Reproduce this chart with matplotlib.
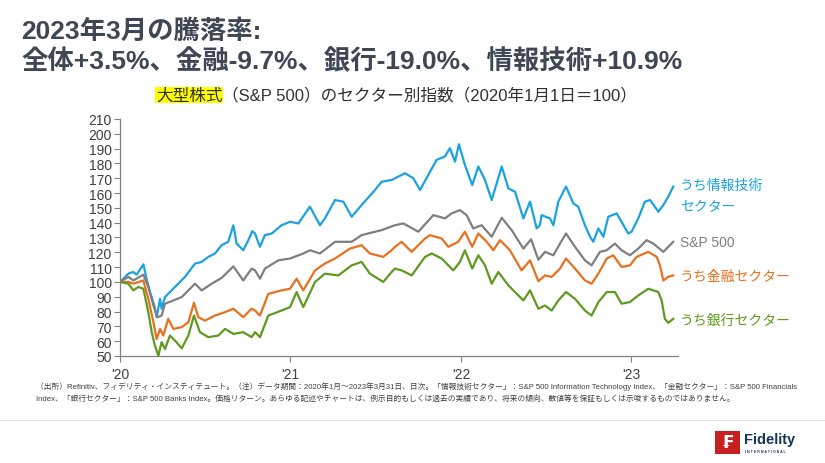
import matplotlib
matplotlib.use("Agg")
import matplotlib.pyplot as plt
from matplotlib.patches import Rectangle
from matplotlib.lines import Line2D

plt.rcParams['font.family'] = ['Liberation Sans', 'Noto Sans CJK JP', 'DejaVu Sans']

# -----------------------------
# Data (decimal years; 2020-01-01 = 100)
# -----------------------------
it_t = [2020.000, 2020.049, 2020.078, 2020.098, 2020.137, 2020.156, 2020.176, 2020.201,
        2020.215, 2020.235, 2020.244, 2020.264, 2020.293, 2020.332, 2020.381, 2020.440,
        2020.479, 2020.518, 2020.557, 2020.596, 2020.635, 2020.665, 2020.684, 2020.723,
        2020.753, 2020.776, 2020.792, 2020.821, 2020.850, 2020.890, 2020.948, 2020.997,
        2021.046, 2021.114, 2021.173, 2021.202, 2021.261, 2021.310, 2021.359, 2021.417,
        2021.496, 2021.535, 2021.593, 2021.672, 2021.720, 2021.760, 2021.808, 2021.857,
        2021.906, 2021.935, 2021.965, 2021.988, 2022.023, 2022.066, 2022.102, 2022.141,
        2022.180, 2022.239, 2022.278, 2022.317, 2022.366, 2022.405, 2022.444, 2022.463,
        2022.473, 2022.522, 2022.542, 2022.571, 2022.616, 2022.659, 2022.688, 2022.727,
        2022.757, 2022.776, 2022.806, 2022.835, 2022.864, 2022.913, 2022.942, 2022.981,
        2023.001, 2023.040, 2023.079, 2023.109, 2023.158, 2023.187, 2023.216, 2023.245]
it_v = [100, 105.6, 106.7, 104.9, 111.9, 102, 93.2, 84.1,
        76.2, 88.6, 81.9, 89.8, 93.2, 97.7, 103.4, 112.4,
        113.5, 116.9, 119.2, 124.8, 127.1, 138.3, 125.9, 121.4,
        128.2, 134.3, 132.7, 123.7, 131.6, 132.7, 138.3, 140.6,
        139.5, 150.8, 138.3, 142.9, 155.3, 154.2, 144, 151.9,
        162.1, 167.7, 168.8, 173.4, 170, 162.1, 172.2, 182.4,
        184.7, 190.3, 181.2, 193, 179, 165.4, 177.9, 168.8,
        155.3, 177.9, 163.2, 160.9, 142.9, 154.2, 136.1, 138.3,
        145.1, 142.9, 138.3, 154.2, 164.4, 153, 150.8, 138.3,
        130.5, 127.1, 136.1, 130.5, 144, 146.3, 140.6, 132.7,
        133.9, 142.9, 154.2, 155.3, 147.4, 151.9, 157.6, 164.4]

sp_t = [2020.000, 2020.049, 2020.078, 2020.137, 2020.166, 2020.196, 2020.221, 2020.244,
        2020.264, 2020.313, 2020.362, 2020.440, 2020.479, 2020.538, 2020.596, 2020.665,
        2020.723, 2020.772, 2020.792, 2020.821, 2020.850, 2020.929, 2020.997, 2021.075,
        2021.114, 2021.173, 2021.261, 2021.359, 2021.417, 2021.535, 2021.613, 2021.662,
        2021.750, 2021.838, 2021.906, 2021.945, 2021.994, 2022.033, 2022.072, 2022.121,
        2022.180, 2022.239, 2022.297, 2022.366, 2022.411, 2022.454, 2022.493, 2022.542,
        2022.581, 2022.616, 2022.669, 2022.727, 2022.766, 2022.815, 2022.855, 2022.903,
        2022.942, 2022.991, 2023.040, 2023.089, 2023.128, 2023.187, 2023.216, 2023.245]
sp_v = [100, 103.4, 101, 104.9, 96.6, 84.1, 76.2, 77.3,
        85.3, 87.5, 89.8, 98.8, 94.3, 98.8, 102.7, 110.5,
        101, 109, 107.8, 102.2, 109, 114.6, 115.8, 119.2,
        121.4, 119.2, 127.1, 127.1, 131.6, 135, 138.3, 139.5,
        133.9, 145.1, 142.9, 146.3, 148.5, 145.1, 136.1, 138.3,
        130.5, 143.3, 135, 122.5, 128.8, 115, 120.3, 118,
        125.9, 132.7, 123.7, 114.6, 111.2, 120.3, 121.4, 125.9,
        121.4, 118, 122.5, 128.2, 125.9, 120.3, 123.7, 127.1]

fin_t = [2020.000, 2020.049, 2020.078, 2020.137, 2020.166, 2020.196, 2020.215, 2020.235,
         2020.254, 2020.283, 2020.313, 2020.362, 2020.401, 2020.434, 2020.459, 2020.499,
         2020.557, 2020.616, 2020.665, 2020.723, 2020.772, 2020.792, 2020.821, 2020.870,
         2020.948, 2020.997, 2021.036, 2021.075, 2021.144, 2021.202, 2021.261, 2021.349,
         2021.417, 2021.466, 2021.544, 2021.593, 2021.613, 2021.652, 2021.711, 2021.789,
         2021.818, 2021.887, 2021.926, 2021.984, 2022.023, 2022.066, 2022.102, 2022.151,
         2022.190, 2022.229, 2022.287, 2022.356, 2022.405, 2022.454, 2022.493, 2022.532,
         2022.581, 2022.616, 2022.669, 2022.727, 2022.766, 2022.806, 2022.855, 2022.893,
         2022.942, 2022.991, 2023.030, 2023.099, 2023.148, 2023.167, 2023.187, 2023.216,
         2023.245]
fin_v = [100, 100, 98.8, 101, 88.6, 72.8, 61.5, 68.3,
         63.8, 75.1, 68.3, 69.5, 72.8, 85.9, 76.2, 73.9,
         77.3, 79.6, 81.9, 76.2, 81.9, 80.7, 77.3, 92,
         94.3, 95.4, 102.2, 94.3, 107.8, 112.4, 115.8, 122.5,
         124.8, 119.2, 116.9, 121.4, 123.7, 127.1, 120.3, 129.3,
         131.6, 129.3, 123.7, 127.1, 133.9, 123.7, 132.7, 127.1,
         121.4, 128.2, 121.4, 107.8, 114.6, 100.5, 104.4, 103.4,
         109, 115.8, 109, 101, 98.8, 105.6, 115.8, 118,
         110.1, 111.2, 116.9, 120.3, 116.9, 111.2, 101, 103.4,
         104.4]

bank_t = [2020.000, 2020.049, 2020.078, 2020.108, 2020.137, 2020.166, 2020.186, 2020.205,
          2020.225, 2020.244, 2020.264, 2020.293, 2020.323, 2020.362, 2020.401, 2020.434,
          2020.469, 2020.518, 2020.577, 2020.616, 2020.665, 2020.723, 2020.772, 2020.792,
          2020.821, 2020.870, 2020.948, 2020.997, 2021.036, 2021.075, 2021.144, 2021.202,
          2021.281, 2021.359, 2021.417, 2021.466, 2021.544, 2021.593, 2021.613, 2021.652,
          2021.711, 2021.789, 2021.828, 2021.887, 2021.955, 2021.994, 2022.023, 2022.066,
          2022.102, 2022.141, 2022.180, 2022.219, 2022.278, 2022.366, 2022.405, 2022.454,
          2022.493, 2022.532, 2022.571, 2022.616, 2022.669, 2022.727, 2022.766, 2022.806,
          2022.855, 2022.903, 2022.942, 2022.991, 2023.040, 2023.099, 2023.158, 2023.177,
          2023.196, 2023.216, 2023.245]
bank_v = [100, 98.8, 94.3, 96.6, 95.4, 79.6, 66.1, 57,
          50.2, 59.3, 54.7, 63.8, 60.4, 55.2, 63.8, 77.3,
          66.1, 62.7, 63.8, 68.3, 64.9, 66.1, 62.7, 66.1,
          62.7, 77.3, 80.7, 83, 93.2, 83, 100, 105.6,
          104.4, 111.2, 113.5, 105.6, 100, 106.7, 109, 107.8,
          104.4, 116.9, 119.2, 115.8, 107.8, 113.5, 121.4, 109,
          118, 111.2, 98.8, 106.7, 97.7, 87.5, 94.3, 81.9,
          84.1, 80.7, 87.5, 93.2, 88.6, 80.7, 77.3, 86.4,
          93.2, 93.2, 85.3, 86.4, 90.9, 95.4, 93.2, 87.5,
          75.1, 72.4, 75.1]

year_ticks = [2020, 2021, 2022, 2023]
year_labels = ["'20", "'21", "'22", "'23"]
y_ticks = list(range(50, 211, 10))

c_it = '#1aa3e0'
c_sp = '#7f7f7f'
c_fin = '#e8701e'
c_bank = '#5e9a20'
c_title = '#3f4654'

# -----------------------------
# Figure
# -----------------------------
W, H = 825, 464
fig = plt.figure(figsize=(W / 100, H / 100), dpi=100)
ax = fig.add_axes([120 / W, 1 - 357 / H, (678 - 120) / W, (357 - 120) / H])

ax.plot(it_t, it_v, color=c_it, lw=1.6)
ax.plot(sp_t, sp_v, color=c_sp, lw=1.6)
ax.plot(fin_t, fin_v, color=c_fin, lw=1.6)
ax.plot(bank_t, bank_v, color=c_bank, lw=1.6)

ax.set_xlim(2020, 2023.273)
ax.set_ylim(50, 210)
ax.set_yticks(y_ticks)
ax.set_xticks(year_ticks)
ax.set_xticklabels(year_labels)
ax.tick_params(axis='y', labelsize=10, colors='#808080', labelcolor='#404040', length=4, pad=2)
ax.tick_params(axis='x', labelsize=10, colors='#808080', labelcolor='#404040', length=4, pad=4)
for s in ['top', 'right']:
    ax.spines[s].set_visible(False)
for s in ['left', 'bottom']:
    ax.spines[s].set_color('#808080')
    ax.spines[s].set_linewidth(0.9)

# series labels on the right
lab_kw = dict(fontsize=10, va='center', ha='left')
fig.text(680 / W, 1 - 186 / H, 'うち情報技術', color=c_it, **lab_kw)
fig.text(680 / W, 1 - 207 / H, 'セクター', color=c_it, **lab_kw)
fig.text(680 / W, 1 - 243 / H, 'S&P 500', color=c_sp, **lab_kw)
fig.text(680 / W, 1 - 277 / H, 'うち金融セクター', color=c_fin, **lab_kw)
fig.text(680 / W, 1 - 321 / H, 'うち銀行セクター', color=c_bank, **lab_kw)

# titles
fig.text(21 / W, 1 - 32 / H, '2023年3月の騰落率:', fontsize=19, fontweight='bold',
         color=c_title, va='center', ha='left')
fig.text(21 / W, 1 - 61 / H, '全体+3.5%、金融-9.7%、銀行-19.0%、情報技術+10.9%', fontsize=19,
         fontweight='bold', color=c_title, va='center', ha='left')

t1 = fig.text(156 / W, 1 - 96 / H, '大型株式', fontsize=12, color='#303030', va='center',
              ha='left', bbox=dict(facecolor='#ffff00', edgecolor='none', pad=0.5))
ax.annotate('（S&P 500）のセクター別指数（2020年1月1日＝100）', xy=(1, 0), xycoords=t1,
            fontsize=12, color='#303030', va='bottom', ha='left', annotation_clip=False)

# footnote
note1 = ('（出所）Refinitiv、フィデリティ・インスティテュート。（注）データ期間：2020年1月～2023年3月31日、日次。'
         '「情報技術セクター」：S&P 500 Information Technology Index、「金融セクター」：S&P 500 Financials')
note2 = ('Index、「銀行セクター」：S&P 500 Banks Index。価格リターン。あらゆる記述やチャートは、例示目的もしくは'
         '過去の実績であり、将来の傾向、数値等を保証もしくは示唆するものではありません。')
fig.text(36 / W, 1 - 387 / H, note1, fontsize=5.55, color='#404040', va='center', ha='left')
fig.text(36 / W, 1 - 399 / H, note2, fontsize=5.55, color='#404040', va='center', ha='left')

# bottom rule and logo
fig.add_artist(Line2D([0, 1], [1 - 421 / H, 1 - 421 / H], color='#e3e3e3', lw=0.8))
fig.add_artist(Rectangle((715 / W, 1 - 455 / H), 25 / W, 23 / H, facecolor='#c8201e',
                         edgecolor='none', transform=fig.transFigure))
fig.text(727.5 / W, 1 - 443.5 / H, '₣', fontsize=12, fontweight='bold', color='white',
         ha='center', va='center', family='DejaVu Sans')
fig.text(744 / W, 1 - 440 / H, 'Fidelity', fontsize=10.5, fontweight='bold', color='#16365c',
         ha='left', va='center')
fig.text(745 / W, 1 - 452 / H, 'I N T E R N A T I O N A L', fontsize=2.5, fontweight='bold',
         color='#16365c', ha='left', va='center')

fig.savefig('out.png', dpi=100)
